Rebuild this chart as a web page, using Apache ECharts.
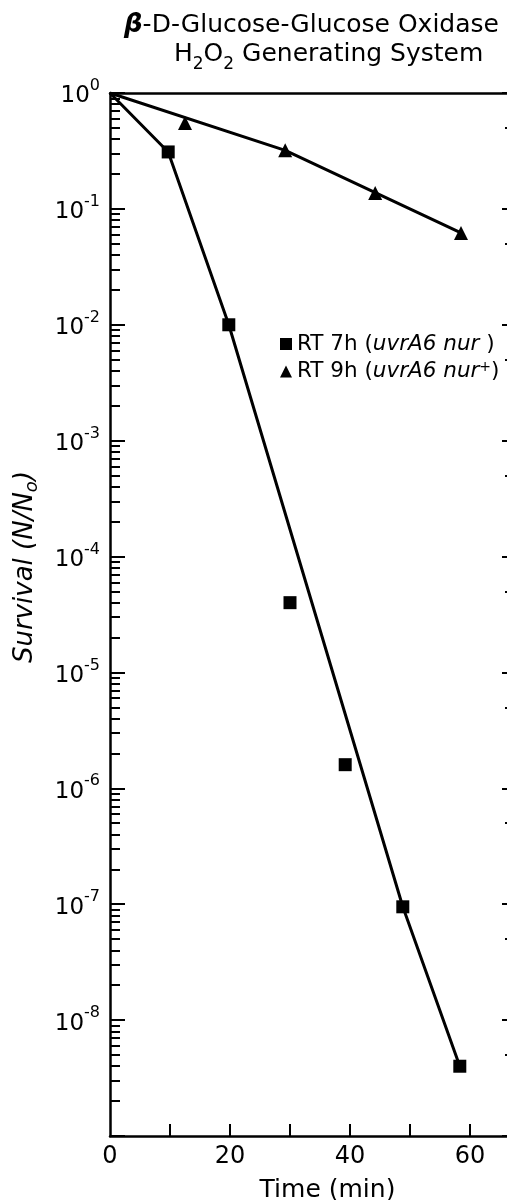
<!DOCTYPE html>
<html>
<head>
<meta charset="utf-8">
<script src="https://cdn.jsdelivr.net/npm/echarts@6/dist/echarts.min.js"></script>
<style>
  html, body { margin: 0; padding: 0; background: #fff; }
  #chart { width: 507px; height: 1200px; }
</style>
</head>
<body>
<div id="chart"></div>
<script>
// Survival of two E. coli strains exposed to glucose / glucose-oxidase generated H2O2
const timeRT7 = [9.7, 19.8, 30, 39.2, 48.8, 58.3];              // min
const survRT7 = [0.31, 0.01, 4.0e-5, 1.6e-6, 0.95e-7, 4.0e-9];   // N/N0
const fitTimeRT7 = [0, 9.7, 19.8, 48.8, 58.3];
const fitSurvRT7 = [1, 0.31, 0.01, 0.95e-7, 4.0e-9];

const timeRT9 = [12.5, 29.2, 44.2, 58.5];
const survRT9 = [0.55, 0.32, 0.137, 0.062];
const fitTimeRT9 = [0, 29.2, 58.5];
const fitSurvRT9 = [1, 0.32, 0.062];

const xLabelValues = [0, 20, 40, 60];
const xTickValues = [10, 20, 30, 40, 50, 60];
const decadeExponents = [0, -1, -2, -3, -4, -5, -6, -7, -8, -9];

const NAME7 = 'RT 7h (uvrA6 nur)';
const NAME9 = 'RT 9h (uvrA6 nur+)';
const FONT = 'DejaVu Sans';

// log10 positions of the 2..9 minor ticks and of the half-decade ticks
const minorTicks = [];
const halfTicks = [];
decadeExponents.forEach(function (e) {
  if (e >= 0) return;
  for (let k = 2; k <= 9; k++) minorTicks.push(e + Math.log10(k));
  halfTicks.push(e + Math.log10(5));
});

const pairs = (xs, ys) => xs.map((x, i) => [x, Math.log10(ys[i])]);

const chart = echarts.init(document.getElementById('chart'), null, { renderer: 'canvas' });

const axisLine = { show: true, onZero: false, lineStyle: { color: '#000', width: 2.5 } };
const noLine = { show: false, onZero: false };
const txt = (size, extra) => Object.assign({ fontFamily: FONT, fontSize: size, fontWeight: 'normal', color: '#000' }, extra || {});

chart.setOption({
  animation: false,
  backgroundColor: '#fff',
  title: [
    {
      text: '{g|β}{t|-D-Glucose-Glucose Oxidase}',
      left: 119, top: 7,
      textStyle: {
        fontWeight: 'normal',
        rich: {
          g: txt(26, { fontWeight: 'bold', fontStyle: 'italic' }),
          t: txt(25)
        }
      }
    },
    {
      text: '{t|H}{s|2}{t|O}{s|2}{t| Generating System}',
      left: 169, top: 37,
      textStyle: {
        fontWeight: 'normal',
        rich: {
          t: txt(25, { lineHeight: 28, verticalAlign: 'top' }),
          s: txt(17, { lineHeight: 45 })
        }
      }
    }
  ],
  legend: {
    orient: 'vertical',
    left: 275, top: 328,
    itemWidth: 12, itemHeight: 12,
    itemGap: 5,
    data: [{ name: NAME7, icon: 'rect' }, { name: NAME9, icon: 'triangle' }],
    formatter: function (name) {
      return name === NAME7
        ? '{n|RT 7h (}{i|uvrA6 nur}{n| )}'
        : '{n|RT 9h (}{i|uvrA6 nur}{p|+}{n|)}';
    },
    textStyle: {
      rich: {
        n: txt(21.5, { lineHeight: 23 }),
        i: txt(21.5, { lineHeight: 23, fontStyle: 'italic' }),
        p: txt(14, { lineHeight: 10, verticalAlign: 'top' })
      }
    }
  },
  grid: { left: 110, top: 93, width: 405, bottom: 64, containLabel: false, outerBoundsMode: 'none' },
  xAxis: [
    {
      type: 'value', position: 'bottom', min: 0, max: 67.5,
      axisLine: axisLine,
      axisTick: { inside: true, length: 12, customValues: xTickValues, lineStyle: { color: '#000', width: 2 } },
      axisLabel: Object.assign({ customValues: xLabelValues, margin: 9 }, txt(24)),
      splitLine: { show: false },
      name: 'Time (min)', nameLocation: 'middle', nameGap: 42,
      nameTextStyle: txt(25, { padding: [0, 0, 0, 30] })
    },
    {
      type: 'value', position: 'top', min: 0, max: 67.5,
      axisLine: axisLine, axisTick: { show: false }, axisLabel: { show: false }, splitLine: { show: false }
    }
  ],
  yAxis: [
    {
      type: 'value', position: 'left', min: -9, max: 0, interval: 1,
      axisLine: axisLine,
      axisTick: { inside: true, length: 15, lineStyle: { color: '#000', width: 2 } },
      axisLabel: {
        margin: 10,
        formatter: function (v) { return v === -9 ? '' : '{b|10}{s|' + v + '}'; },
        rich: {
          b: txt(23, { lineHeight: 30, verticalAlign: 'bottom' }),
          s: txt(16, { lineHeight: 14, verticalAlign: 'top' })
        }
      },
      splitLine: { show: false }
    },
    {
      type: 'value', position: 'left', min: -9, max: 0,
      axisLine: noLine,
      axisTick: { inside: true, length: 10, customValues: minorTicks, lineStyle: { color: '#000', width: 2 } },
      axisLabel: { show: false }, splitLine: { show: false }
    },
    {
      type: 'value', position: 'right', min: -9, max: 0,
      axisLine: noLine,
      axisTick: { inside: true, length: 13, customValues: decadeExponents, lineStyle: { color: '#000', width: 2 } },
      axisLabel: { show: false }, splitLine: { show: false }
    },
    {
      type: 'value', position: 'right', min: -9, max: 0,
      axisLine: noLine,
      axisTick: { inside: true, length: 10, customValues: halfTicks, lineStyle: { color: '#000', width: 2 } },
      axisLabel: { show: false }, splitLine: { show: false }
    }
  ],
  series: [
    {
      name: 'fit RT7', type: 'line', data: pairs(fitTimeRT7, fitSurvRT7),
      showSymbol: false, symbol: 'none', silent: true,
      lineStyle: { color: '#000', width: 3 }, z: 2
    },
    {
      name: 'fit RT9', type: 'line', data: pairs(fitTimeRT9, fitSurvRT9),
      showSymbol: false, symbol: 'none', silent: true,
      lineStyle: { color: '#000', width: 3 }, z: 2
    },
    {
      name: NAME7, type: 'scatter', data: pairs(timeRT7, survRT7),
      symbol: 'rect', symbolSize: 13, itemStyle: { color: '#000', opacity: 1 }, z: 3
    },
    {
      name: NAME9, type: 'scatter', data: pairs(timeRT9, survRT9),
      symbol: 'triangle', symbolSize: 14, itemStyle: { color: '#000', opacity: 1 }, z: 3
    }
  ],
  graphic: [
    {
      type: 'text', x: 32, y: 567, rotation: Math.PI / 2,
      style: {
        text: '{t|Survival (N/N}{o|o}{t|)}',
        align: 'center', verticalAlign: 'middle',
        rich: {
          t: { fontFamily: FONT, fontSize: 26, fontStyle: 'italic', lineHeight: 29, verticalAlign: 'top', fill: '#000' },
          o: { fontFamily: FONT, fontSize: 18, fontStyle: 'italic', lineHeight: 40, fill: '#000' }
        }
      }
    }
  ]
});
</script>
</body>
</html>
